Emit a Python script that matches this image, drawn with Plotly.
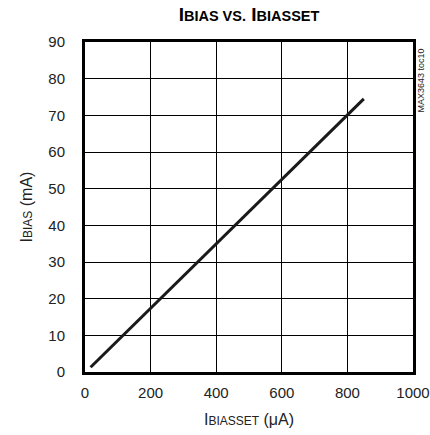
import plotly.graph_objects as go

# IBIAS vs IBIASSET
ibiasset_ua = [17, 100, 200, 300, 400, 500, 600, 700, 800, 850]
ibias_ma = [1.3, 8.6, 17.4, 26.2, 35.0, 43.8, 52.6, 61.4, 70.1, 74.5]

x_ticks = [0, 200, 400, 600, 800, 1000]
y_ticks = [0, 10, 20, 30, 40, 50, 60, 70, 80, 90]

FONT = "Liberation Sans, Arial, sans-serif"

fig = go.Figure()
fig.add_trace(go.Scatter(
    x=ibiasset_ua, y=ibias_ma, mode="lines",
    line=dict(color="#1a1a1a", width=3), showlegend=False
))

axis_common = dict(
    showline=True, linecolor="black", linewidth=3, mirror=True,
    showgrid=True, gridcolor="black", gridwidth=1,
    ticks="", zeroline=False, automargin=False,
    ticklabeloverflow="allow",
    tickfont=dict(family=FONT, size=15, color="#222"),
)

fig.update_xaxes(
    range=[0, 1000], tickvals=x_ticks, ticklabelstandoff=5,
    title=dict(text="I<span style='font-size:12px'>BIASSET</span> (μA)",
               font=dict(family=FONT, size=16, color="#222"), standoff=14),
    **axis_common
)
fig.update_yaxes(
    range=[0, 90], tickvals=y_ticks, ticklabelstandoff=14,
    title=dict(text="I<span style='font-size:12px'>BIAS</span> (mA)",
               font=dict(family=FONT, size=16, color="#222"), standoff=12),
    **axis_common
)

fig.update_layout(
    width=430, height=435,
    margin=dict(l=85, r=17, t=42, b=63),
    paper_bgcolor="white", plot_bgcolor="white",
    title=dict(
        text="<b>I<span style='font-size:14.5px'>BIAS VS.</span> I<span style='font-size:14.5px'>BIASSET</span></b>",
        font=dict(family=FONT, size=19, color="black"),
        x=0.5, xref="paper", xanchor="center",
        y=0.968, yref="container", yanchor="middle", automargin=False
    ),
    annotations=[dict(
        text="MAX3643 toc10", textangle=-90, showarrow=False,
        xref="paper", yref="paper", x=1, y=0.883, xshift=8,
        xanchor="center", yanchor="middle",
        font=dict(family=FONT, size=9, color="#222")
    )]
)

# drop the browser's default body margin so the figure sits at 0,0
fig.write_html("out.html", config={"displayModeBar": False},
               post_script="document.body.style.margin='0';")
